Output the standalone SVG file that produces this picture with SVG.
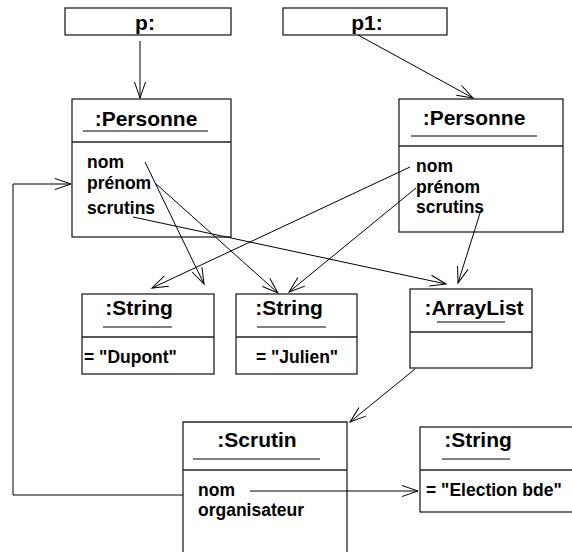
<svg xmlns="http://www.w3.org/2000/svg" width="572" height="552" viewBox="0 0 572 552">
<style>
.box{fill:#fff;stroke:#222;stroke-width:1.3}
.sep{stroke:#222;stroke-width:1.3}
.ul{stroke:#555;stroke-width:1.5}
.t{font-family:"Liberation Sans",Arial,sans-serif;font-weight:bold;font-size:21px;fill:#000}
.a{font-family:"Liberation Sans",Arial,sans-serif;font-weight:bold;font-size:17.5px;fill:#000}
.c{fill:none;stroke:#000;stroke-width:1}
</style>
<defs>
<marker id="arr" markerUnits="userSpaceOnUse" markerWidth="20" markerHeight="14" viewBox="-17 -7 20 14" refX="0" refY="0" orient="auto">
<path d="M-16,-5.5 L0,0 L-16,5.5" fill="none" stroke="#000" stroke-width="1"/>
</marker>
</defs>
<rect width="572" height="552" fill="#fff"/>
<g id="p">
<rect class="box" x="65" y="8" width="166" height="27"/>
<text class="t" x="145" y="30" text-anchor="middle">p:</text>
</g>
<g id="p1">
<rect class="box" x="283" y="8" width="164" height="27"/>
<text class="t" x="367" y="30" text-anchor="middle">p1:</text>
</g>
<g id="personne1">
<rect class="box" x="72" y="99" width="159" height="138"/>
<line class="sep" x1="72" y1="142" x2="231" y2="142"/>
<text class="t" x="146" y="126" text-anchor="middle">:Personne</text>
<line class="ul" x1="83" y1="131" x2="208" y2="131"/>
<text class="a" x="87" y="168">nom</text>
<text class="a" x="87" y="189">prénom</text>
<text class="a" x="87" y="214">scrutins</text>
</g>
<g id="personne2">
<rect class="box" x="399" y="99" width="164" height="133"/>
<line class="sep" x1="399" y1="146" x2="563" y2="146"/>
<text class="t" x="474" y="125" text-anchor="middle">:Personne</text>
<line class="ul" x1="411" y1="136" x2="537" y2="136"/>
<text class="a" x="416" y="172">nom</text>
<text class="a" x="416" y="193">prénom</text>
<text class="a" x="416" y="213">scrutins</text>
</g>
<g id="stringDupont">
<rect class="box" x="82" y="294" width="132" height="80"/>
<line class="sep" x1="82" y1="337" x2="214" y2="337"/>
<text class="t" x="139" y="315" text-anchor="middle">:String</text>
<line class="ul" x1="103" y1="327" x2="172" y2="327"/>
<text class="a" x="84" y="363">= "Dupont"</text>
</g>
<g id="stringJulien">
<rect class="box" x="236" y="294" width="121" height="80"/>
<line class="sep" x1="236" y1="337" x2="357" y2="337"/>
<text class="t" x="289" y="315" text-anchor="middle">:String</text>
<line class="ul" x1="257" y1="327" x2="326" y2="327"/>
<text class="a" x="297" y="363" text-anchor="middle">= "Julien"</text>
</g>
<g id="arrayList">
<rect class="box" x="410" y="289" width="122" height="79"/>
<line class="sep" x1="410" y1="332" x2="532" y2="332"/>
<text class="t" x="474" y="315" text-anchor="middle">:ArrayList</text>
<line class="ul" x1="437" y1="322" x2="505" y2="322"/>
</g>
<g id="scrutin">
<path class="box" d="M183,552 L183,422 L347,422 L347,552"/>
<line class="sep" x1="183" y1="470" x2="347" y2="470"/>
<text class="t" x="257" y="447" text-anchor="middle">:Scrutin</text>
<line class="ul" x1="193" y1="459" x2="320" y2="459"/>
<text class="a" x="198" y="496">nom</text>
<text class="a" x="198" y="516">organisateur</text>
</g>
<g id="stringElection">
<rect class="box" x="420" y="427" width="160" height="85"/>
<line class="sep" x1="420" y1="470" x2="580" y2="470"/>
<text class="t" x="478" y="447" text-anchor="middle">:String</text>
<line class="ul" x1="442" y1="459" x2="510" y2="459"/>
<text class="a" x="426" y="496">= "Election bde"</text>
</g>
<g id="connectors">
<line class="c" x1="140" y1="41" x2="140" y2="98" marker-end="url(#arr)"/>
<line class="c" x1="358" y1="35" x2="473" y2="98" marker-end="url(#arr)"/>
<line class="c" x1="145" y1="162" x2="204" y2="284" marker-end="url(#arr)"/>
<line class="c" x1="155" y1="183" x2="278" y2="293" marker-end="url(#arr)"/>
<line class="c" x1="133" y1="217" x2="446" y2="284" marker-end="url(#arr)"/>
<line class="c" x1="410" y1="167" x2="152" y2="288" marker-end="url(#arr)"/>
<line class="c" x1="416" y1="188" x2="289" y2="292" marker-end="url(#arr)"/>
<line class="c" x1="481" y1="210" x2="458" y2="283" marker-end="url(#arr)"/>
<line class="c" x1="415" y1="369" x2="350" y2="422" marker-end="url(#arr)"/>
<line class="c" x1="250" y1="491" x2="418" y2="491" marker-end="url(#arr)"/>
<polyline class="c" points="183,495 13,495 13,184 71,184" marker-end="url(#arr)"/>
</g>
</svg>
